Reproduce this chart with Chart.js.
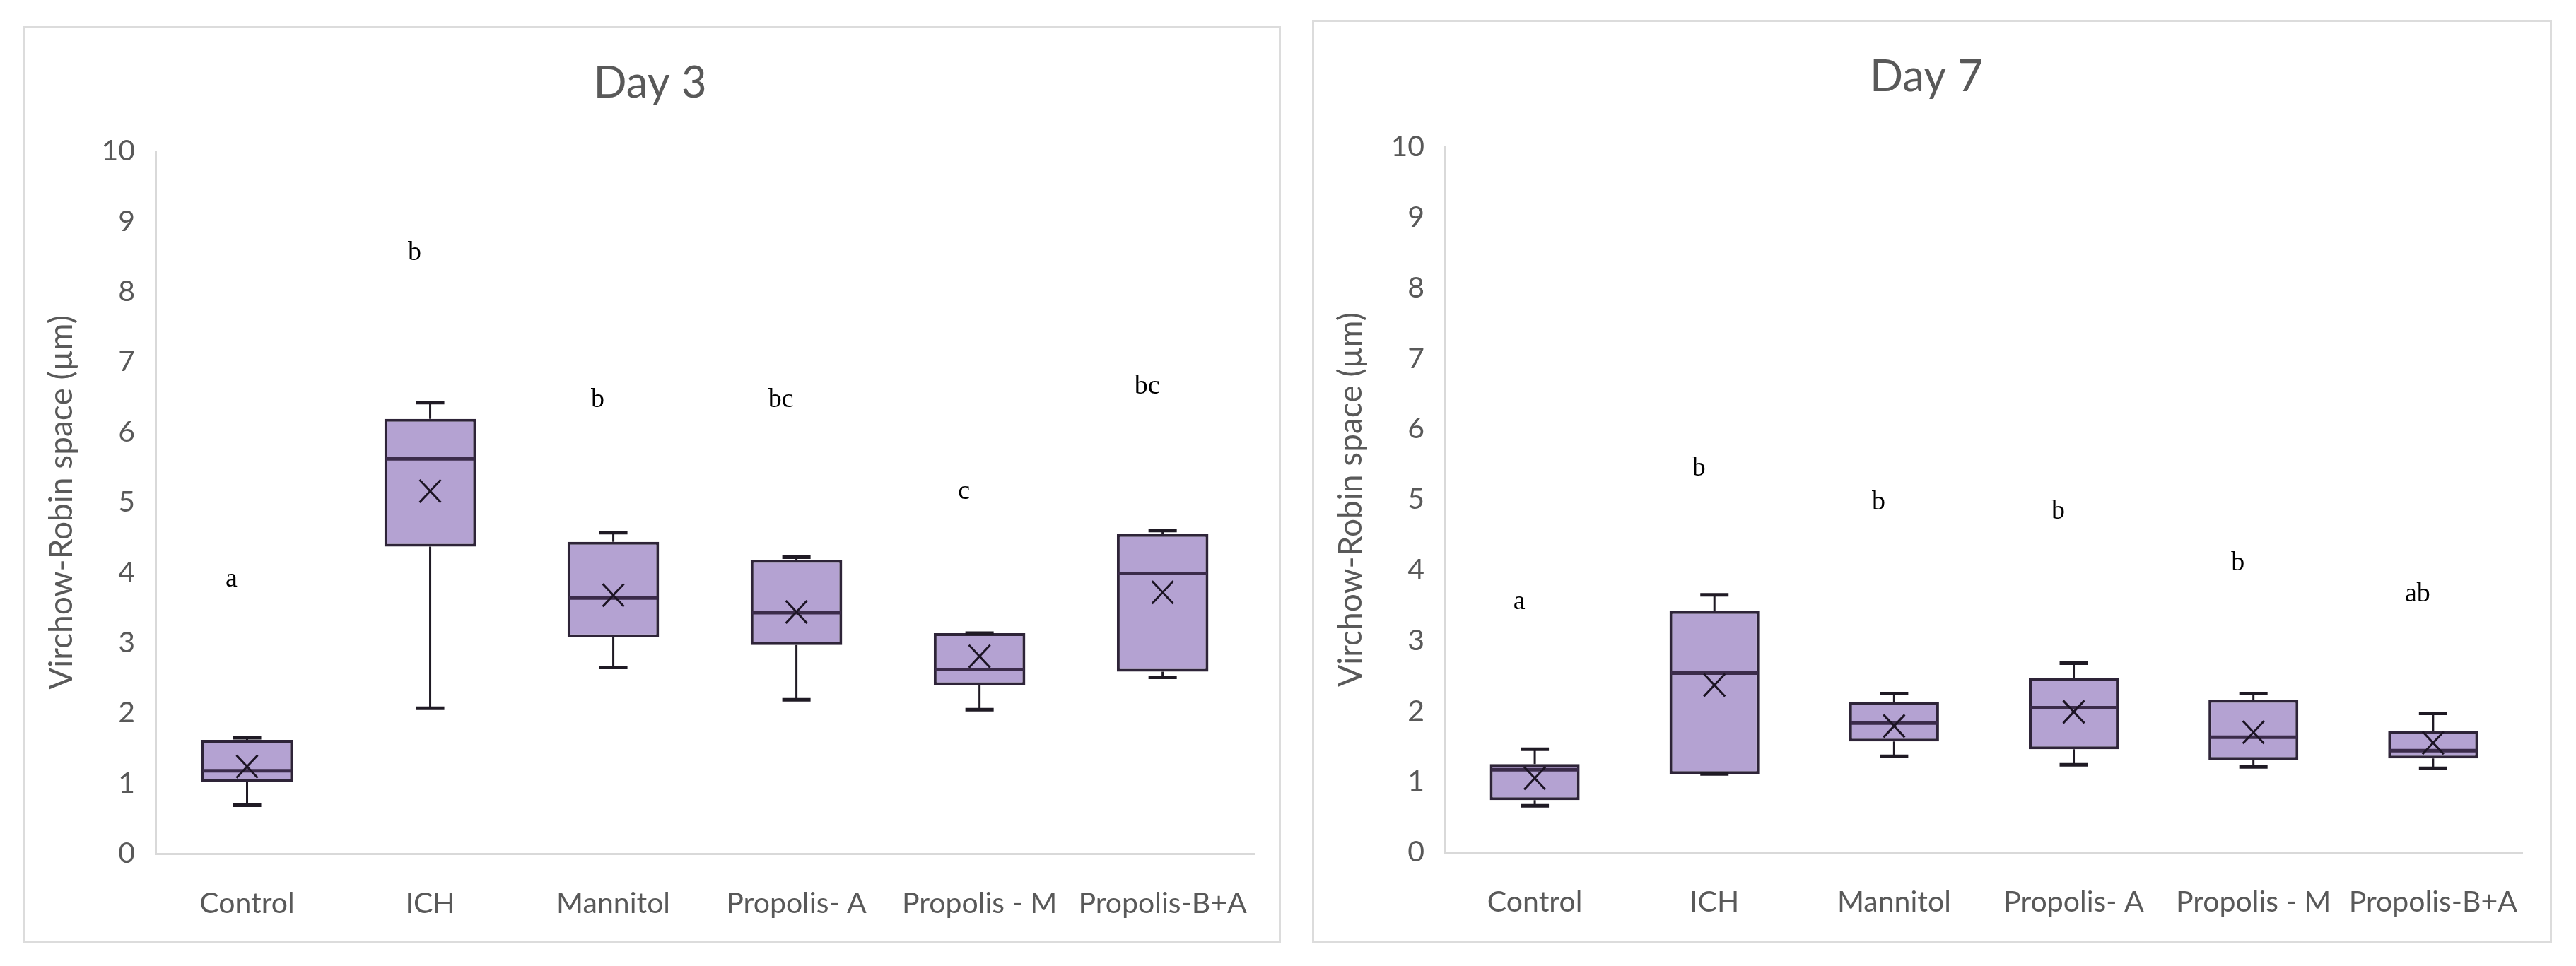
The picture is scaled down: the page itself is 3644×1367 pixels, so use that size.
<!DOCTYPE html>
<html>
<head>
<meta charset="utf-8">
<script src="https://cdn.jsdelivr.net/npm/chart.js@4.4.1/dist/chart.umd.min.js"></script>
<style>
  html, body { margin: 0; padding: 0; background: #ffffff; }
  body { width: 3644px; height: 1367px; position: relative; overflow: hidden; }
  .panel { position: absolute; box-shadow: inset 0 0 0 3px #dcdcdc; }
  .panel canvas { position: absolute; left: 0; top: 0; }
</style>
</head>
<body>
<div class="panel" id="p3" style="left:33px;top:37px;width:1779px;height:1297px;"><canvas id="day3"></canvas></div>
<div class="panel" id="p7" style="left:1856px;top:28px;width:1754px;height:1306px;"><canvas id="day7"></canvas></div>
<script>
'use strict';

// グループ名
const categories = ['Control', 'ICH', 'Mannitol', 'Propolis- A', 'Propolis - M', 'Propolis-B+A'];
const yTicks = [0, 1, 2, 3, 4, 5, 6, 7, 8, 9, 10];

// Day 3 の箱ひげ図の値
const day3Min    = [0.69, 2.07, 2.65, 2.19, 2.05, 2.51];
const day3Q1     = [1.02, 4.37, 3.08, 2.97, 2.40, 2.59];
const day3Median = [1.18, 5.62, 3.64, 3.43, 2.62, 3.99];
const day3Q3     = [1.62, 6.19, 4.44, 4.18, 3.14, 4.55];
const day3Max    = [1.65, 6.42, 4.57, 4.22, 3.14, 4.60];
const day3Mean   = [1.24, 5.16, 3.68, 3.44, 2.81, 3.72];
const day3Letters = ['a', 'b', 'b', 'bc', 'c', 'bc'];
const day3LetterY = [3.90, 8.55, 6.46, 6.46, 5.15, 6.65];

// Day 7 の箱ひげ図の値
const day7Min    = [0.66, 1.11, 1.36, 1.24, 1.21, 1.19];
const day7Q1     = [0.74, 1.11, 1.57, 1.46, 1.31, 1.33];
const day7Median = [1.17, 2.54, 1.83, 2.05, 1.63, 1.44];
const day7Q3     = [1.25, 3.42, 2.13, 2.47, 2.16, 1.72];
const day7Max    = [1.46, 3.65, 2.25, 2.68, 2.25, 1.97];
const day7Mean   = [1.05, 2.37, 1.79, 1.99, 1.70, 1.55];
const day7Letters = ['a', 'b', 'b', 'b', 'b', 'ab'];
const day7LetterY = [3.55, 5.44, 4.96, 4.83, 4.10, 3.66];

const sansFont = "Lato, 'Open Sans', sans-serif";
const grayText = '#595959';

// ひげ・中央値・平均(×)・有意差の文字を描くプラグイン
const boxExtras = {
  id: 'boxExtras',
  afterDatasetsDraw(chart, args, opts) {
    const ctx = chart.ctx;
    const x = chart.scales.x;
    const y = chart.scales.y;
    const bars = chart.getDatasetMeta(0).data;
    ctx.save();
    opts.median.forEach((m, i) => {
      const cx = x.getPixelForValue(i);
      const half = bars[i].width / 2;
      const cap = 20;
      // ひげ
      ctx.strokeStyle = '#1f1a24';
      ctx.lineWidth = 3;
      ctx.beginPath();
      if (opts.max[i] > opts.q3[i]) {
        ctx.moveTo(cx, y.getPixelForValue(opts.q3[i]));
        ctx.lineTo(cx, y.getPixelForValue(opts.max[i]));
      }
      if (opts.min[i] < opts.q1[i]) {
        ctx.moveTo(cx, y.getPixelForValue(opts.q1[i]));
        ctx.lineTo(cx, y.getPixelForValue(opts.min[i]));
      }
      ctx.stroke();
      ctx.lineWidth = 5;
      ctx.beginPath();
      ctx.moveTo(cx - cap, y.getPixelForValue(opts.max[i]));
      ctx.lineTo(cx + cap, y.getPixelForValue(opts.max[i]));
      ctx.moveTo(cx - cap, y.getPixelForValue(opts.min[i]));
      ctx.lineTo(cx + cap, y.getPixelForValue(opts.min[i]));
      ctx.stroke();
      // 中央値
      ctx.strokeStyle = '#3b2b4a';
      ctx.lineWidth = 5;
      ctx.beginPath();
      ctx.moveTo(cx - half + 2, y.getPixelForValue(m));
      ctx.lineTo(cx + half - 2, y.getPixelForValue(m));
      ctx.stroke();
      // 平均値 (×)
      const my = y.getPixelForValue(opts.mean[i]);
      ctx.strokeStyle = '#1c1424';
      ctx.lineWidth = 3;
      ctx.beginPath();
      ctx.moveTo(cx - 15, my - 16);
      ctx.lineTo(cx + 15, my + 16);
      ctx.moveTo(cx + 15, my - 16);
      ctx.lineTo(cx - 15, my + 16);
      ctx.stroke();
      // 有意差の文字
      ctx.fillStyle = '#000000';
      ctx.font = "38px 'Liberation Serif', 'DejaVu Serif', serif";
      ctx.textAlign = 'center';
      ctx.textBaseline = 'middle';
      ctx.fillText(opts.letters[i], cx - 22, y.getPixelForValue(opts.letterY[i]));
    });
    ctx.restore();
  }
};

function makeChart(id, title, stats, layoutBox) {
  const canvas = document.getElementById(id);
  canvas.width = layoutBox.w;
  canvas.height = layoutBox.h;
  const titleSize = 62;
  const titleLine = titleSize * 1.2;
  const titleTop = layoutBox.titleY - titleLine / 2;
  const yTitleSize = 46;

  const data = {
    labels: categories,
    datasets: [{
      label: title,
      data: categories.map((c, i) => [stats.q1[i], stats.q3[i]]),
      backgroundColor: '#b4a2d2',
      borderColor: '#2e2438',
      borderWidth: 4,
      borderSkipped: false,
      barPercentage: 0.5,
      categoryPercentage: 1.0,
    }]
  };

  const options = {
    responsive: false,
    animation: false,
    devicePixelRatio: 1,
    layout: {
      padding: { left: 20, right: layoutBox.w - layoutBox.right, top: 0, bottom: 0 }
    },
    scales: {
      y: {
        min: 0,
        max: 10,
        afterBuildTicks: (scale) => { scale.ticks = yTicks.map(v => ({ value: v })); },
        afterFit: (scale) => { scale.width = layoutBox.left - 20; },
        grid: { display: false, drawTicks: false },
        border: { display: true, color: '#d9d9d9', width: 3 },
        ticks: {
          color: grayText,
          padding: 29,
          font: { family: sansFont, size: 41 },
        },
        title: {
          display: true,
          text: 'Virchow-Robin space (µm)',
          color: grayText,
          font: { family: sansFont, size: yTitleSize },
          padding: { top: layoutBox.yTitleX - 20 - yTitleSize * 0.6, bottom: 0 },
        },
      },
      x: {
        afterFit: (scale) => { scale.height = layoutBox.h - layoutBox.bottom; },
        grid: { display: false, drawTicks: false },
        border: { display: true, color: '#d9d9d9', width: 3 },
        ticks: {
          color: grayText,
          padding: 46,
          autoSkip: false,
          maxRotation: 0,
          font: { family: sansFont, size: 41 },
        },
      }
    },
    plugins: {
      legend: { display: false },
      tooltip: { enabled: false },
      title: {
        display: true,
        text: title,
        color: grayText,
        font: { family: sansFont, size: titleSize, weight: 'normal' },
        padding: { top: titleTop, bottom: layoutBox.top - titleTop - titleLine },
      },
      boxExtras: stats,
    },
  };

  return new Chart(canvas.getContext('2d'), {
    type: 'bar',
    data: data,
    options: options,
    plugins: [boxExtras],
  });
}

makeChart('day3', 'Day 3', {
  min: day3Min, q1: day3Q1, median: day3Median, q3: day3Q3, max: day3Max,
  mean: day3Mean, letters: day3Letters, letterY: day3LetterY
}, { w: 1779, h: 1297, left: 187, right: 1753, top: 177, bottom: 1171, titleY: 81, yTitleX: 54 });

makeChart('day7', 'Day 7', {
  min: day7Min, q1: day7Q1, median: day7Median, q3: day7Q3, max: day7Max,
  mean: day7Mean, letters: day7Letters, letterY: day7LetterY
}, { w: 1754, h: 1306, left: 188, right: 1718, top: 180, bottom: 1178, titleY: 81, yTitleX: 55 });
</script>
</body>
</html>
